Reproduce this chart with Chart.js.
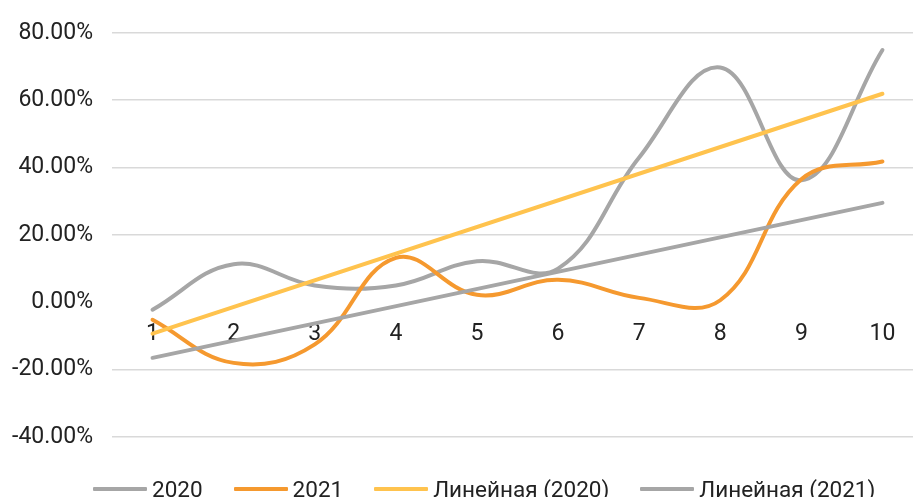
<!DOCTYPE html>
<html>
<head>
<meta charset="utf-8">
<script src="https://cdn.jsdelivr.net/npm/chart.js@4/dist/chart.umd.min.js"></script>
<style>
  html, body { margin: 0; padding: 0; background: #fff; overflow: hidden; width: 913px; height: 497px; }
  #wrap { position: relative; width: 913px; height: 497px; overflow: hidden; }
  #c { position: absolute; left: 0; top: 0; }
  #legend { position: absolute; left: 93px; top: 476px; display: flex; align-items: center;
            font-family: Roboto, "Noto Sans", sans-serif; font-size: 22.5px; color: #222;
            line-height: 26px; white-space: nowrap; }
  .item { display: flex; align-items: center; margin-right: 31px; }
  .swatch { width: 54px; height: 4px; margin-right: 5px; border-radius: 1px; }
</style>
</head>
<body>
<div id="wrap">
  <canvas id="c" width="923" height="497"></canvas>
  <div id="legend"></div>
</div>
<script>
// Categories along the horizontal axis
const categories = ['1', '2', '3', '4', '5', '6', '7', '8', '9', '10'];

// Yearly series, in percent
const values2020 = [-2.2, 11.3, 5.0, 5.0, 12.2, 10.0, 43.0, 69.7, 36.2, 74.9];
const values2021 = [-5.2, -18.0, -12.5, 13.2, 2.2, 6.7, 1.3, 0.6, 36.5, 41.8];

// Linear trend lines: value at the first and at the last category
const trend2020Ends = [-9.3, 61.9];
const trend2021Ends = [-16.5, 29.5];

// Series names shown in the legend
const seriesNames = ['2020', '2021', 'Линейная (2020)', 'Линейная (2021)'];

// Value axis range
const yMin = -40, yMax = 80, yStep = 20;

const colors = ['#A6A6A6', '#F5992F', '#FFC34E', '#A6A6A6'];
const FONT = 'Roboto, "Noto Sans", sans-serif';
const TEXT = '#222222';

function endsToSeries(ends) {
  const last = categories.length - 1;
  return categories.map((c, i) => (i === 0 ? ends[0] : i === last ? ends[1] : null));
}

const seriesData = [values2020, values2021, endsToSeries(trend2020Ends), endsToSeries(trend2021Ends)];

const datasets = seriesNames.map((name, i) => ({
  label: name,
  data: seriesData[i],
  borderColor: colors[i],
  backgroundColor: colors[i],
  borderWidth: 4,
  pointRadius: 0,
  pointHoverRadius: 0,
  tension: i < 2 ? 0.4 : 0,
  spanGaps: true,
  borderCapStyle: 'round',
  order: i < 2 ? 4 - i : 2 - (i - 2)
}));

new Chart(document.getElementById('c'), {
  type: 'line',
  data: { labels: categories, datasets },
  options: {
    responsive: false,
    animation: false,
    devicePixelRatio: 1,
    layout: { padding: { top: 28, bottom: 60, left: 0, right: 0 } },
    plugins: { legend: { display: false }, tooltip: { enabled: false }, title: { display: false } },
    scales: {
      y: {
        min: yMin, max: yMax,
        afterFit: (scale) => { scale.width = 112; },
        ticks: {
          stepSize: yStep,
          padding: 19,
          color: TEXT,
          font: { family: FONT, size: 23 },
          callback: (v) => v.toFixed(2) + '%'
        },
        grid: {
          drawTicks: false,
          lineWidth: 1.5,
          color: (ctx) => (ctx.tick && ctx.tick.value === 0 ? 'rgba(0,0,0,0)' : '#D9D9D9')
        },
        border: { display: false }
      },
      x: {
        type: 'category',
        position: { y: 0 },
        offset: true,
        grid: { display: false, drawTicks: false },
        border: { display: false },
        ticks: {
          padding: 18,
          maxRotation: 0,
          autoSkip: false,
          color: TEXT,
          font: { family: FONT, size: 23 }
        }
      }
    }
  }
});

// Legend row built from the same series names and colours
const legend = document.getElementById('legend');
seriesNames.forEach((name, i) => {
  const item = document.createElement('div');
  item.className = 'item';
  const sw = document.createElement('span');
  sw.className = 'swatch';
  sw.style.background = colors[i];
  const txt = document.createElement('span');
  txt.textContent = name;
  item.appendChild(sw);
  item.appendChild(txt);
  legend.appendChild(item);
});
</script>
</body>
</html>
